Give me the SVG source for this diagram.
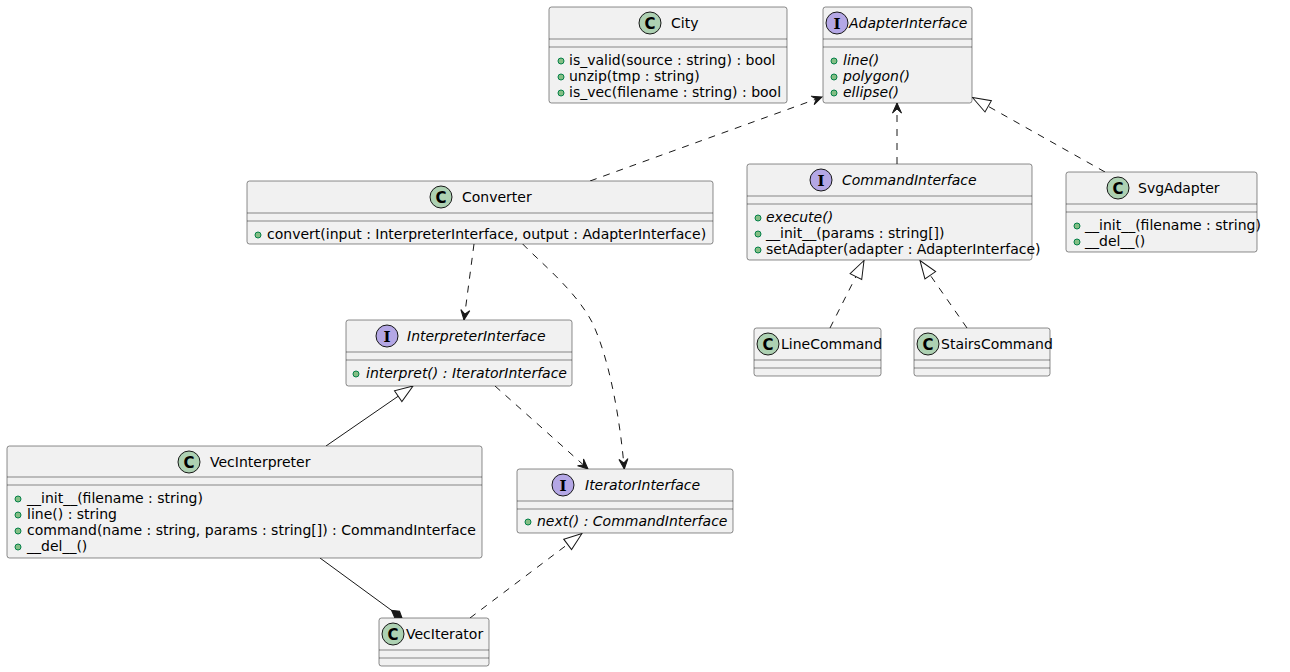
<svg xmlns="http://www.w3.org/2000/svg" width="1290" height="672" viewBox="0 0 1290 672">
<style>
.box{fill:#F1F1F1;stroke:#181818;stroke-width:0.5}
.sep{stroke:#181818;stroke-width:0.5}
.t{font-family:"DejaVu Sans",sans-serif;font-size:14px;fill:#000000}
.it{font-style:italic}
.cc{fill:#ADD1B2;stroke:#181818;stroke-width:1}
.ci{fill:#B4A7E5;stroke:#181818;stroke-width:1}
.lc{font-family:"DejaVu Sans",sans-serif;font-size:15px;font-weight:bold;fill:#000000;text-anchor:middle}
.li{font-family:"DejaVu Serif",serif;font-size:15px;font-weight:bold;fill:#000000;text-anchor:middle}
.dot{fill:#84BE84;stroke:#038048;stroke-width:1}
.e{fill:none;stroke:#181818;stroke-width:1}
.d{stroke-dasharray:7,7}
</style>
<defs>
<marker id="dep" markerWidth="12" markerHeight="10" refX="10" refY="5" orient="auto" markerUnits="userSpaceOnUse" overflow="visible"><path d="M10,5 L0,0.5 L4,5 L0,9.5 Z" fill="#181818" stroke="#181818" stroke-width="1" stroke-dasharray="none"/></marker>
<marker id="ext" markerWidth="20" markerHeight="16" refX="19" refY="8" orient="auto" markerUnits="userSpaceOnUse" overflow="visible"><path d="M19,8 L1,1.5 L1,14.5 Z" fill="#FFFFFF" stroke="#181818" stroke-width="1" stroke-dasharray="none"/></marker>
<marker id="comp" markerWidth="16" markerHeight="10" refX="14" refY="5" orient="auto" markerUnits="userSpaceOnUse" overflow="visible"><path d="M14,5 L8,1 L1,5 L8,9 Z" fill="#181818" stroke="#181818" stroke-width="1" stroke-dasharray="none"/></marker>
</defs>

<g id="connectors">
<path class="e d" d="M590,181 L822,97" marker-end="url(#dep)"/>
<path class="e d" d="M897,164 L897,103" marker-end="url(#dep)"/>
<path class="e d" d="M1105,172 L972.5,97.5" marker-end="url(#ext)"/>
<path class="e d" d="M474,244 L464,320" marker-end="url(#dep)"/>
<path class="e d" d="M522.7,244 C540,262 575,290 592,322 C610,360 620,420 624.3,469" marker-end="url(#dep)"/>
<path class="e d" d="M495,386 L588,469" marker-end="url(#dep)"/>
<path class="e" d="M326,446 L413,386" marker-end="url(#ext)"/>
<path class="e d" d="M470,618 L582,533.5" marker-end="url(#ext)"/>
<path class="e d" d="M830,328 L864,260.5" marker-end="url(#ext)"/>
<path class="e d" d="M967,328 L920,260.5" marker-end="url(#ext)"/>
<path class="e" d="M320,558 L402,618" marker-end="url(#comp)"/>
</g>

<g id="City">
<rect class="box" x="549" y="7" width="238" height="96" rx="2.5"/>
<line class="sep" x1="549" y1="39" x2="787" y2="39"/>
<line class="sep" x1="549" y1="47" x2="787" y2="47"/>
<circle class="cc" cx="650" cy="23" r="11"/><text class="lc" x="650" y="28.5">C</text>
<text class="t" x="671" y="28">City</text>
<circle class="dot" cx="561" cy="61" r="3"/><text class="t" x="569" y="65">is_valid(source : string) : bool</text>
<circle class="dot" cx="561" cy="77" r="3"/><text class="t" x="569" y="81">unzip(tmp : string)</text>
<circle class="dot" cx="561" cy="93" r="3"/><text class="t" x="569" y="97">is_vec(filename : string) : bool</text>
</g>

<g id="AdapterInterface">
<rect class="box" x="823" y="7" width="149" height="96" rx="2.5"/>
<line class="sep" x1="823" y1="39" x2="972" y2="39"/>
<line class="sep" x1="823" y1="47" x2="972" y2="47"/>
<circle class="ci" cx="837" cy="23" r="11"/><text class="li" x="837" y="28.5">I</text>
<text class="t it" x="849" y="28">AdapterInterface</text>
<circle class="dot" cx="834" cy="61" r="3"/><text class="t it" x="843" y="65">line()</text>
<circle class="dot" cx="834" cy="77" r="3"/><text class="t it" x="843" y="81">polygon()</text>
<circle class="dot" cx="834" cy="93" r="3"/><text class="t it" x="843" y="97">ellipse()</text>
</g>

<g id="Converter">
<rect class="box" x="247" y="181" width="466" height="63" rx="2.5"/>
<line class="sep" x1="247" y1="213" x2="713" y2="213"/>
<line class="sep" x1="247" y1="221" x2="713" y2="221"/>
<circle class="cc" cx="441" cy="197" r="11"/><text class="lc" x="441" y="202.5">C</text>
<text class="t" x="462" y="202">Converter</text>
<circle class="dot" cx="258" cy="235" r="3"/><text class="t" x="267" y="239">convert(input : InterpreterInterface, output : AdapterInterface)</text>
</g>

<g id="CommandInterface">
<rect class="box" x="747" y="164" width="285" height="96" rx="2.5"/>
<line class="sep" x1="747" y1="196" x2="1032" y2="196"/>
<line class="sep" x1="747" y1="204" x2="1032" y2="204"/>
<circle class="ci" cx="821" cy="180" r="11"/><text class="li" x="821" y="185.5">I</text>
<text class="t it" x="842" y="185">CommandInterface</text>
<circle class="dot" cx="758" cy="218" r="3"/><text class="t it" x="766" y="222">execute()</text>
<circle class="dot" cx="758" cy="234" r="3"/><text class="t" x="766" y="238">__init__(params : string[])</text>
<circle class="dot" cx="758" cy="250" r="3"/><text class="t" x="766" y="254">setAdapter(adapter : AdapterInterface)</text>
</g>

<g id="SvgAdapter">
<rect class="box" x="1066" y="172" width="191" height="80" rx="2.5"/>
<line class="sep" x1="1066" y1="204" x2="1257" y2="204"/>
<line class="sep" x1="1066" y1="212" x2="1257" y2="212"/>
<circle class="cc" cx="1118" cy="188" r="11"/><text class="lc" x="1118" y="193.5">C</text>
<text class="t" x="1138" y="193">SvgAdapter</text>
<circle class="dot" cx="1077" cy="226" r="3"/><text class="t" x="1085" y="230">__init__(filename : string)</text>
<circle class="dot" cx="1077" cy="242" r="3"/><text class="t" x="1085" y="246">__del__()</text>
</g>

<g id="LineCommand">
<rect class="box" x="754" y="328" width="127" height="48" rx="2.5"/>
<line class="sep" x1="754" y1="360" x2="881" y2="360"/>
<line class="sep" x1="754" y1="368" x2="881" y2="368"/>
<circle class="cc" cx="768" cy="344" r="11"/><text class="lc" x="768" y="349.5">C</text>
<text class="t" x="781" y="349">LineCommand</text>
</g>

<g id="StairsCommand">
<rect class="box" x="914" y="328" width="136" height="48" rx="2.5"/>
<line class="sep" x1="914" y1="360" x2="1050" y2="360"/>
<line class="sep" x1="914" y1="368" x2="1050" y2="368"/>
<circle class="cc" cx="928" cy="344" r="11"/><text class="lc" x="928" y="349.5">C</text>
<text class="t" x="941" y="349">StairsCommand</text>
</g>

<g id="InterpreterInterface">
<rect class="box" x="346" y="320" width="226" height="66" rx="2.5"/>
<line class="sep" x1="346" y1="352" x2="572" y2="352"/>
<line class="sep" x1="346" y1="360" x2="572" y2="360"/>
<circle class="ci" cx="387" cy="336" r="11"/><text class="li" x="387" y="341.5">I</text>
<text class="t it" x="407" y="341">InterpreterInterface</text>
<circle class="dot" cx="356" cy="374" r="3"/><text class="t it" x="366" y="378">interpret() : IteratorInterface</text>
</g>

<g id="VecInterpreter">
<rect class="box" x="7" y="446" width="475" height="112" rx="2.5"/>
<line class="sep" x1="7" y1="477" x2="482" y2="477"/>
<line class="sep" x1="7" y1="485" x2="482" y2="485"/>
<circle class="cc" cx="189" cy="462" r="11"/><text class="lc" x="189" y="467.5">C</text>
<text class="t" x="210" y="467">VecInterpreter</text>
<circle class="dot" cx="18" cy="499" r="3"/><text class="t" x="27" y="503">__init__(filename : string)</text>
<circle class="dot" cx="18" cy="515" r="3"/><text class="t" x="27" y="519">line() : string</text>
<circle class="dot" cx="18" cy="531" r="3"/><text class="t" x="27" y="535">command(name : string, params : string[]) : CommandInterface</text>
<circle class="dot" cx="18" cy="547" r="3"/><text class="t" x="27" y="551">__del__()</text>
</g>

<g id="IteratorInterface">
<rect class="box" x="517" y="469" width="216" height="64" rx="2.5"/>
<line class="sep" x1="517" y1="501" x2="733" y2="501"/>
<line class="sep" x1="517" y1="509" x2="733" y2="509"/>
<circle class="ci" cx="563" cy="485" r="11"/><text class="li" x="563" y="490.5">I</text>
<text class="t it" x="585" y="490">IteratorInterface</text>
<circle class="dot" cx="528" cy="522" r="3"/><text class="t it" x="537" y="526">next() : CommandInterface</text>
</g>

<g id="VecIterator">
<rect class="box" x="379" y="618" width="110" height="48" rx="2.5"/>
<line class="sep" x1="379" y1="650" x2="489" y2="650"/>
<line class="sep" x1="379" y1="658" x2="489" y2="658"/>
<circle class="cc" cx="393" cy="634" r="11"/><text class="lc" x="393" y="639.5">C</text>
<text class="t" x="406" y="639">VecIterator</text>
</g>
</svg>
